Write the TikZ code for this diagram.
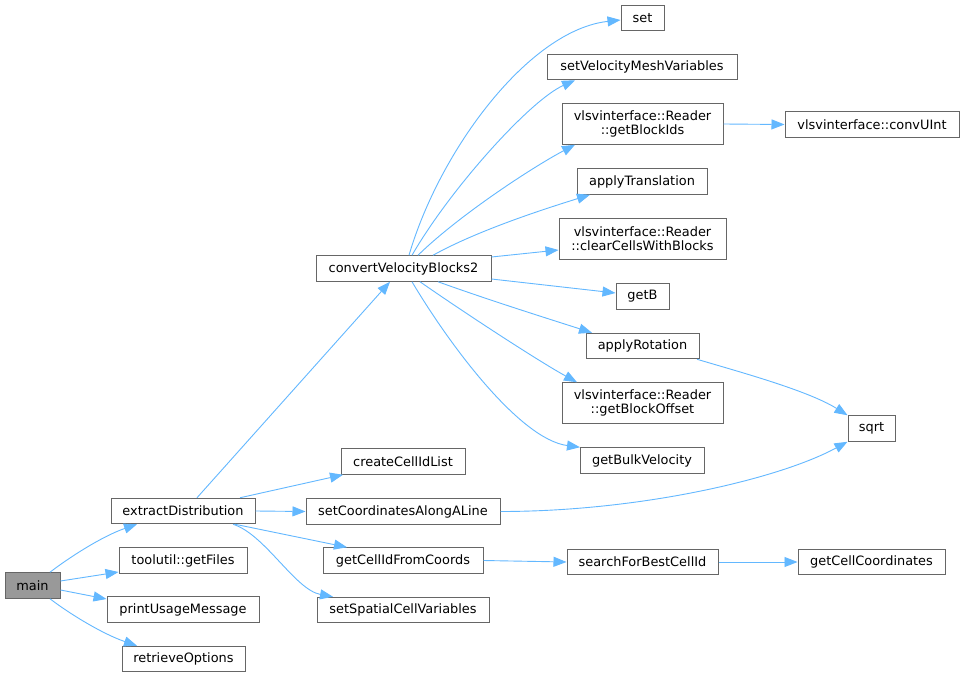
\documentclass[tikz,border=0pt]{standalone}
\usepackage{fontspec}
\setmainfont{DejaVu Sans}
\usetikzlibrary{arrows.meta}
\definecolor{edgec}{HTML}{63B8FF}
\definecolor{bord}{HTML}{666666}
\definecolor{mainfill}{HTML}{999999}
\begin{document}
\begin{tikzpicture}[x=1pt,y=-1pt,
 fn/.style={draw=bord, fill=white, line width=1pt, inner sep=0pt, minimum height=25.5pt, font=\fontsize{12.9}{14}\selectfont, align=center},
 fntwo/.style={fn, minimum height=40.5pt},
 call/.style={draw=edgec, line width=0.9pt, -{Triangle[length=13pt,width=10pt]}}]
\useasboundingbox[fill=white] (0,0) rectangle (964,677);
% nodes
\node[fn, fill=mainfill, minimum width=55pt] (main) at (32.5,585.5) {main};
\node[fn, minimum width=144pt] (extract) at (183,511) {extractDistribution};
\node[fn, minimum width=128pt] (getFiles) at (183,560.5) {toolutil::getFiles};
\node[fn, minimum width=152pt] (printUsage) at (183,609.5) {printUsageMessage};
\node[fn, minimum width=123pt] (retrieve) at (183.5,659) {retrieveOptions};
\node[fn, minimum width=175pt] (convert) at (403.5,268.5) {convertVelocityBlocks2};
\node[fn, minimum width=124pt] (createList) at (403,461.5) {createCellIdList};
\node[fn, minimum width=194pt] (setCoord) at (403,511.5) {setCoordinatesAlongALine};
\node[fn, minimum width=160pt] (getCellId) at (403,560.5) {getCellIdFromCoords};
\node[fn, minimum width=172pt] (setSpatial) at (403,610) {setSpatialCellVariables};
\node[fn, minimum width=43pt] (setn) at (642.5,18) {set};
\node[fn, minimum width=190pt] (setVel) at (642,67) {setVelocityMeshVariables};
\node[fntwo, minimum width=161pt] (getBlockIds) at (642.5,124) {vlsvinterface::Reader\\::getBlockIds};
\node[fn, minimum width=130pt] (applyTrans) at (642,181.5) {applyTranslation};
\node[fntwo, minimum width=167pt] (clearCells) at (642.5,239) {vlsvinterface::Reader\\::clearCellsWithBlocks};
\node[fn, minimum width=53pt] (getB) at (642.5,296.5) {getB};
\node[fn, minimum width=113pt] (applyRot) at (642.5,346) {applyRotation};
\node[fntwo, minimum width=161pt] (getOffset) at (642.5,403) {vlsvinterface::Reader\\::getBlockOffset};
\node[fn, minimum width=124pt] (getBulk) at (642,460.5) {getBulkVelocity};
\node[fn, minimum width=174pt] (convUInt) at (872,124.5) {vlsvinterface::convUInt};
\node[fn, minimum width=47pt] (sqrtn) at (871.5,428.5) {sqrt};
\node[fn, minimum width=151pt] (search) at (642.5,562) {searchForBestCellId};
\node[fn, minimum width=147pt] (getCoords) at (871.5,562) {getCellCoordinates};
% edges
\draw[call] ([xshift=17.5pt]main.north) .. controls +(18,-14) and +(-35,12) .. ([xshift=-46pt]extract.south);
\draw[call] ([yshift=4.5pt]main.east) -- ([yshift=-11.5pt]getFiles.west);
\draw[call] ([yshift=-4.5pt]main.east) -- ([yshift=10.5pt]printUsage.west);
\draw[call] ([xshift=17.5pt]main.south) .. controls +(18,14) and +(-35,-12) .. ([xshift=-46.5pt]retrieve.north);
\draw[call] ([xshift=14pt]extract.north) -- ([xshift=-13.5pt]convert.south);
\draw[call] ([xshift=57pt]extract.north) -- ([xshift=-60pt]createList.south);
\draw[call] (extract.east) -- (setCoord.west);
\draw[call] ([xshift=52pt]extract.south) -- ([xshift=-56pt]getCellId.north);
\draw[call] ([xshift=50pt]extract.south) .. controls +(32,10) and +(-38,-7) .. ([xshift=-70pt]setSpatial.north);
\draw[call] ([xshift=5.5pt]convert.north) .. controls +(31,-106) and +(-91,10) .. ([yshift=-2pt]setn.west);
\draw[call] ([xshift=8.5pt]convert.north) .. controls +(38,-66) and +(-45,20) .. ([xshift=-67pt]setVel.south);
\draw[call] ([xshift=14.5pt]convert.north) .. controls +(42,-41) and +(-40,21) .. ([xshift=-67.5pt]getBlockIds.south);
\draw[call] ([xshift=29.5pt]convert.north) .. controls +(45,-25) and +(-45,14) .. ([xshift=-52pt]applyTrans.south);
\draw[call] ([yshift=11.5pt]convert.east) -- ([yshift=-11pt]clearCells.west);
\draw[call] ([yshift=-10.5pt]convert.east) -- ([yshift=3.5pt]getB.west);
\draw[call] ([xshift=34.5pt]convert.south) .. controls +(50,18) and +(-50,-16) .. ([xshift=-50.5pt]applyRot.north);
\draw[call] ([xshift=16.5pt]convert.south) .. controls +(40,28) and +(-40,-22) .. ([xshift=-65.5pt]getOffset.north);
\draw[call] ([xshift=8.5pt]convert.south) .. controls +(38,64) and +(-60,-8) .. ([xshift=-62pt]getBulk.north);
\draw[call] (getBlockIds.east) -- (convUInt.west);
\draw[call] ([xshift=54.5pt]applyRot.south) .. controls +(40,12) and +(-40,-25) .. (sqrtn.north west);
\draw[call] (setCoord.east) .. controls +(140,0) and +(-68,37) .. (sqrtn.south west);
\draw[call] (getCellId.east) -- (search.west);
\draw[call] (search.east) -- (getCoords.west);
\end{tikzpicture}
\end{document}
